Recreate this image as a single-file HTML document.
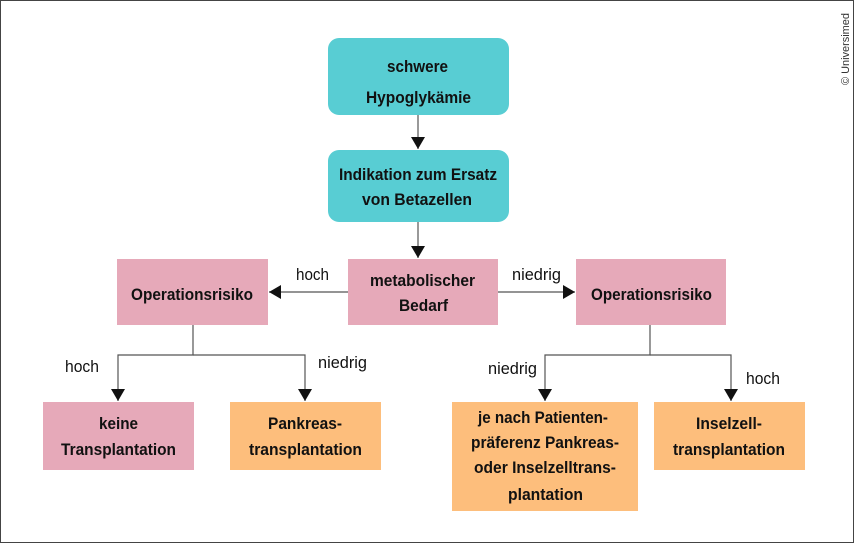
<!DOCTYPE html>
<html><head><meta charset="utf-8"><style>
html,body{margin:0;padding:0;background:#fff}
svg{display:block}
</style></head><body>
<svg width="854" height="543" viewBox="0 0 854 543" xmlns="http://www.w3.org/2000/svg" font-family="Liberation Sans, sans-serif">
<rect x="0.5" y="0.5" width="853" height="542" fill="#fff" stroke="#444" stroke-width="1"/>
<defs>
<marker id="b" markerWidth="12" markerHeight="16" refX="12" refY="8" orient="auto" markerUnits="userSpaceOnUse"><path d="M0,1 L12,8 L0,15 z" fill="#111"/></marker></defs>
<g fill="none" stroke="#555" stroke-width="1.2">
<line x1="418" y1="115" x2="418" y2="149" marker-end="url(#b)"/>
<line x1="418" y1="222" x2="418" y2="258" marker-end="url(#b)"/>
<line x1="348" y1="292" x2="269" y2="292" marker-end="url(#b)"/>
<line x1="498" y1="292" x2="575" y2="292" marker-end="url(#b)"/>
<polyline points="193,325 193,355 118,355 118,401" marker-end="url(#b)"/>
<polyline points="193,355 305,355 305,401" marker-end="url(#b)"/>
<polyline points="650,325 650,355 545,355 545,401" marker-end="url(#b)"/>
<polyline points="650,355 731,355 731,401" marker-end="url(#b)"/>
</g>
<rect x="328" y="38" width="181" height="77" rx="11" fill="#58cdd3"/>
<rect x="328" y="150" width="181" height="72" rx="11" fill="#58cdd3"/>
<rect x="348" y="259" width="150" height="66" fill="#e6a9b9"/>
<rect x="117" y="259" width="151" height="66" fill="#e6a9b9"/>
<rect x="576" y="259" width="150" height="66" fill="#e6a9b9"/>
<rect x="43" y="402" width="151" height="68" fill="#e6a9b9"/>
<rect x="230" y="402" width="151" height="68" fill="#fdbe7c"/>
<rect x="452" y="402" width="186" height="109" fill="#fdbe7c"/>
<rect x="654" y="402" width="151" height="68" fill="#fdbe7c"/>
<g font-weight="bold" font-size="17" fill="#111">
<text x="387" y="72" textLength="61" lengthAdjust="spacingAndGlyphs">schwere</text>
<text x="366" y="103" textLength="105" lengthAdjust="spacingAndGlyphs">Hypoglykämie</text>
<text x="339" y="180" textLength="158" lengthAdjust="spacingAndGlyphs">Indikation zum Ersatz</text>
<text x="362" y="205" textLength="110" lengthAdjust="spacingAndGlyphs">von Betazellen</text>
<text x="370" y="286" textLength="105" lengthAdjust="spacingAndGlyphs">metabolischer</text>
<text x="399" y="311" textLength="49" lengthAdjust="spacingAndGlyphs">Bedarf</text>
<text x="131" y="300" textLength="122" lengthAdjust="spacingAndGlyphs">Operationsrisiko</text>
<text x="591" y="300" textLength="121" lengthAdjust="spacingAndGlyphs">Operationsrisiko</text>
<text x="99" y="429" textLength="39" lengthAdjust="spacingAndGlyphs">keine</text>
<text x="61" y="455" textLength="115" lengthAdjust="spacingAndGlyphs">Transplantation</text>
<text x="268" y="429" textLength="74" lengthAdjust="spacingAndGlyphs">Pankreas-</text>
<text x="249" y="455" textLength="113" lengthAdjust="spacingAndGlyphs">transplantation</text>
<text x="478" y="423" textLength="130" lengthAdjust="spacingAndGlyphs">je nach Patienten-</text>
<text x="471" y="448" textLength="148" lengthAdjust="spacingAndGlyphs">präferenz Pankreas-</text>
<text x="474" y="473" textLength="142" lengthAdjust="spacingAndGlyphs">oder Inselzelltrans-</text>
<text x="508" y="500" textLength="75" lengthAdjust="spacingAndGlyphs">plantation</text>
<text x="696" y="429" textLength="66" lengthAdjust="spacingAndGlyphs">Inselzell-</text>
<text x="673" y="455" textLength="112" lengthAdjust="spacingAndGlyphs">transplantation</text>
</g>
<g font-size="17" fill="#111">
<text x="296" y="280" textLength="33" lengthAdjust="spacingAndGlyphs">hoch</text>
<text x="512" y="280" textLength="49" lengthAdjust="spacingAndGlyphs">niedrig</text>
<text x="65" y="372" textLength="34" lengthAdjust="spacingAndGlyphs">hoch</text>
<text x="318" y="368" textLength="49" lengthAdjust="spacingAndGlyphs">niedrig</text>
<text x="488" y="374" textLength="49" lengthAdjust="spacingAndGlyphs">niedrig</text>
<text x="746" y="384" textLength="34" lengthAdjust="spacingAndGlyphs">hoch</text>
</g>
<text transform="translate(849,85) rotate(-90)" font-size="11" fill="#333" textLength="72" lengthAdjust="spacingAndGlyphs">© Universimed</text>
</svg>
</body></html>
